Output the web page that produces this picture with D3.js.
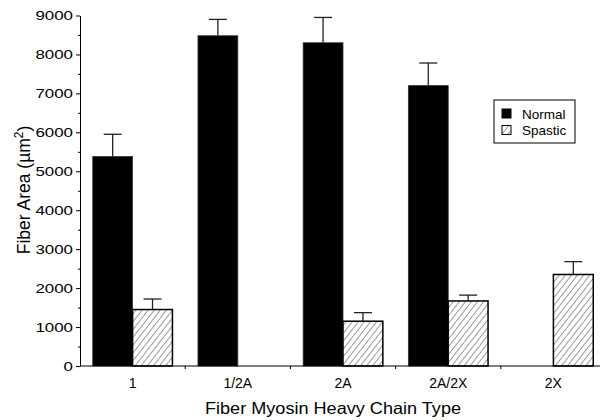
<!DOCTYPE html>
<html>
<head>
<meta charset="utf-8">
<script src="https://cdnjs.cloudflare.com/ajax/libs/d3/7.8.5/d3.min.js"></script>
<style>
  body { margin: 0; background: #fff; }
  text { font-family: "Liberation Sans", Arial, sans-serif; fill: #000; }
</style>
</head>
<body>
<div id="chart"></div>
<script>
// data (means and upper error bars, µm²)
var categories = ["1", "1/2A", "2A", "2A/2X", "2X"];
var series = ["Normal", "Spastic"];
var normalMean = [5380, 8480, 8300, 7200, null];
var normalErr = [570, 420, 650, 580, null];
var spasticMean = [1450, null, 1150, 1670, 2350];
var spasticErr = [270, null, 220, 150, 330];
var yTicks = [0, 1000, 2000, 3000, 4000, 5000, 6000, 7000, 8000, 9000];

var width = 600, height = 420;
var margin = {top: 15.5, right: -6, bottom: 54, left: 80};

var svg = d3.select("#chart").append("svg")
    .attr("width", width)
    .attr("height", height);

var hs = 4.8;
var hatch = svg.append("defs").append("pattern")
    .attr("id", "hatch")
    .attr("patternUnits", "userSpaceOnUse")
    .attr("width", hs)
    .attr("height", hs)
    .attr("patternTransform", "rotate(38)");
hatch.append("rect").attr("width", hs).attr("height", hs).attr("fill", "#fff");
hatch.append("line")
    .attr("x1", 0).attr("y1", 0).attr("x2", 0).attr("y2", hs)
    .attr("stroke", "#222").attr("stroke-width", 0.9);

var x0 = d3.scaleBand()
    .domain(categories)
    .range([margin.left, width - margin.right])
    .paddingInner(0)
    .paddingOuter(0);

var x1 = d3.scaleBand()
    .domain(series)
    .range([0, x0.bandwidth()])
    .paddingInner(0)
    .paddingOuter(0.32);

var y = d3.scaleLinear()
    .domain([0, 9000])
    .range([height - margin.bottom, margin.top]);

var rows = [];
categories.forEach(function(c, i) {
  rows.push({cat: c, s: "Normal", v: normalMean[i], e: normalErr[i]});
  rows.push({cat: c, s: "Spastic", v: spasticMean[i], e: spasticErr[i]});
});
rows = rows.filter(function(d) { return d.v != null; });

function cx(d) { return x0(d.cat) + x1(d.s) + x1.bandwidth() / 2; }

// error bars (upper only), drawn first so the bar covers the stem base
var eb = svg.append("g").attr("class", "errors")
  .selectAll("g")
  .data(rows)
  .enter().append("g");
eb.append("line")
    .attr("x1", cx).attr("x2", cx)
    .attr("y1", function(d) { return y(d.v); })
    .attr("y2", function(d) { return y(d.v + d.e); })
    .attr("stroke", "#222").attr("stroke-width", 1.3);
eb.append("line")
    .attr("x1", function(d) { return cx(d) - 9; })
    .attr("x2", function(d) { return cx(d) + 9; })
    .attr("y1", function(d) { return y(d.v + d.e); })
    .attr("y2", function(d) { return y(d.v + d.e); })
    .attr("stroke", "#222").attr("stroke-width", 1.3);

svg.append("g").attr("class", "bars")
  .selectAll("rect")
  .data(rows)
  .enter().append("rect")
    .attr("x", function(d) { return x0(d.cat) + x1(d.s); })
    .attr("width", x1.bandwidth())
    .attr("y", function(d) { return y(d.v); })
    .attr("height", function(d) { return y(0) - y(d.v); })
    .attr("fill", function(d) { return d.s == "Normal" ? "#000" : "url(#hatch)"; })
    .attr("stroke", function(d) { return d.s == "Normal" ? "#333" : "#000"; })
    .attr("stroke-width", function(d) { return d.s == "Normal" ? 0.8 : 1.5; });

// y axis with minor ticks; the scanned figure's text is a bit stretched sideways
var yAxis = svg.append("g")
    .attr("transform", "translate(" + margin.left + ",0)")
    .call(d3.axisLeft(y).tickValues(yTicks).tickFormat(d3.format("d"))
      .tickSize(4).tickPadding(3).tickSizeOuter(0));
yAxis.selectAll("text")
    .style("font-size", "13.5px")
    .attr("textLength", function(d) { return String(d).length * 9.4; })
    .attr("lengthAdjust", "spacingAndGlyphs");
yAxis.selectAll("line, path").attr("stroke", "#000");
svg.append("g")
    .attr("transform", "translate(" + margin.left + ",0)")
    .call(d3.axisLeft(y).tickValues(d3.range(500, 9000, 1000)).tickSize(2).tickFormat("").tickSizeOuter(0))
    .select(".domain").remove();

// x axis: ticks at group boundaries, labels at group centres
var xg = svg.append("g")
    .attr("transform", "translate(0," + y(0) + ")");
xg.append("line")
    .attr("x1", margin.left).attr("x2", width)
    .attr("stroke", "#000").attr("stroke-width", 1);
xg.selectAll(".bt")
  .data(categories.slice(1))
  .enter().append("line")
    .attr("x1", function(d) { return x0(d); })
    .attr("x2", function(d) { return x0(d); })
    .attr("y1", 0).attr("y2", 3)
    .attr("stroke", "#000");
xg.selectAll(".cl")
  .data(categories)
  .enter().append("text")
    .attr("x", function(d) { return x0(d) + x0.bandwidth() / 2; })
    .attr("y", 22)
    .attr("text-anchor", "middle")
    .style("font-size", "14px")
    .text(function(d) { return d; });

// axis titles
svg.append("text")
    .attr("x", 333)
    .attr("y", 414)
    .attr("text-anchor", "middle")
    .attr("textLength", 256)
    .attr("lengthAdjust", "spacingAndGlyphs")
    .style("font-size", "16.5px")
    .text("Fiber Myosin Heavy Chain Type");

var yt = svg.append("text")
    .attr("transform", "translate(30,190) rotate(-90)")
    .attr("text-anchor", "middle")
    .style("font-size", "17.5px");
yt.append("tspan").text("Fiber Area (µm");
yt.append("tspan").attr("dy", -7).style("font-size", "12px").text("2");
yt.append("tspan").attr("dy", 7).text(")");

// legend
var lg = svg.append("g").attr("transform", "translate(494,100)");
lg.append("rect")
    .attr("width", 81).attr("height", 43)
    .attr("fill", "#fff").attr("stroke", "#000").attr("stroke-width", 1);
var li = lg.selectAll(".li")
  .data(series)
  .enter().append("g")
    .attr("transform", function(d, i) { return "translate(8," + (9 + i * 16.5) + ")"; });
li.append("rect")
    .attr("width", 9).attr("height", 9)
    .attr("fill", function(d) { return d == "Normal" ? "#000" : "url(#hatch)"; })
    .attr("stroke", "#000").attr("stroke-width", 1);
li.append("text")
    .attr("x", 20).attr("y", 9.5)
    .style("font-size", "13.5px")
    .text(function(d) { return d; });
</script>
</body>
</html>
